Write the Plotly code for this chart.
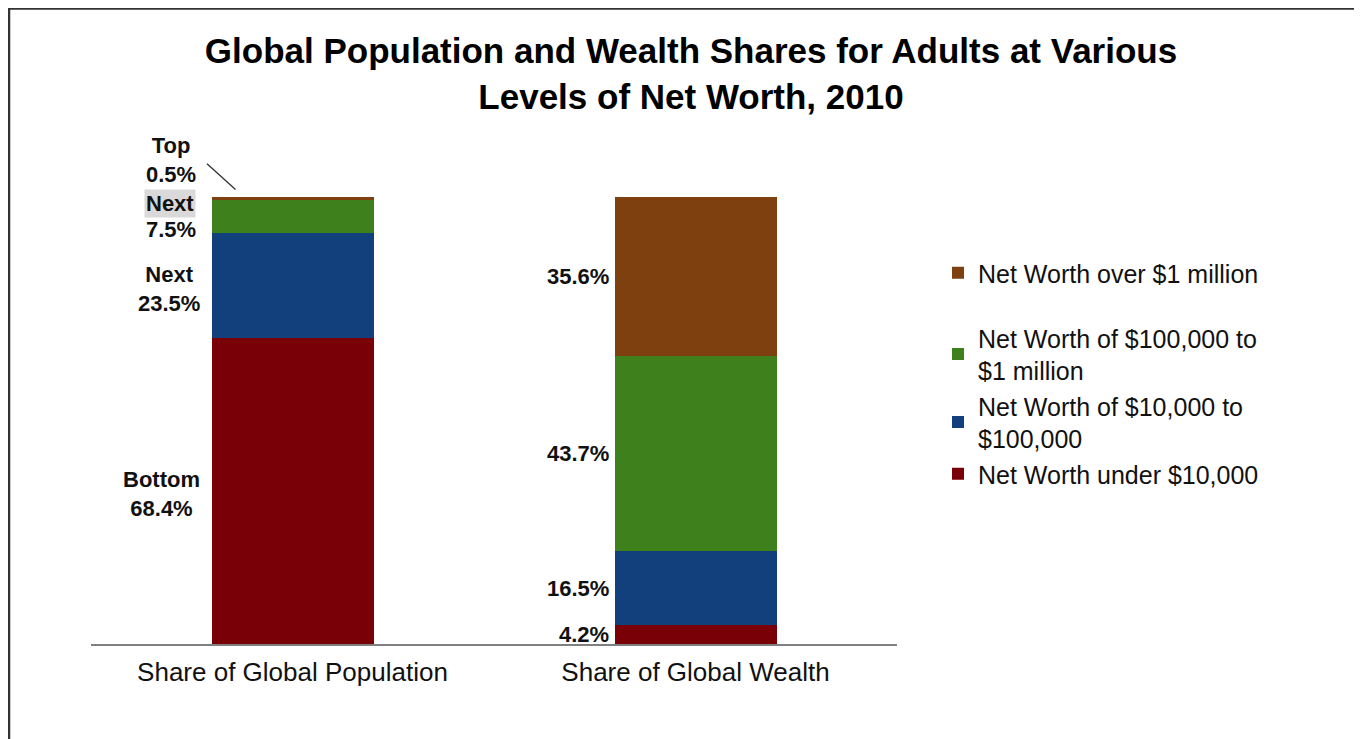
import plotly.graph_objects as go

categories = ["Share of Global Population", "Share of Global Wealth"]
series_names = [
    "Net Worth under $10,000",
    "Net Worth of $10,000 to<br>$100,000",
    "Net Worth of $100,000 to<br>$1 million",
    "Net Worth over $1 million",
]
population_share = [68.4, 23.5, 7.5, 0.5]
wealth_share = [4.2, 16.5, 43.7, 35.6]
population_groups = ["Bottom", "Next", "Next", "Top"]
colors = ["#7A0008", "#12407C", "#3E801C", "#7E400F"]
legend_ids = ["legend2", "legend2", "legend2", "legend"]

FONT = "Liberation Sans, Arial, sans-serif"
BAR_W = 0.402
W, H = 1354, 731          # page has 8px body margin
L, R_EDGE, T, B_EDGE = 83, 889, 189, 636
PW, PH = R_EDGE - L, B_EDGE - T

fig = go.Figure()
for i, name in enumerate(series_names):
    fig.add_trace(go.Bar(
        x=categories,
        y=[population_share[i], wealth_share[i]],
        name=name,
        marker=dict(color=colors[i], line=dict(width=0)),
        width=BAR_W,
        legend=legend_ids[i],
        hoverinfo="skip",
    ))

annotations = []
cum = 0
for i, v in enumerate(population_share):
    mid = cum + v / 2
    cum += v
    pct = f"{v}%"
    if i == 3:
        annotations.append(dict(
            x=0 - BAR_W / 2, y=mid, xref="x", yref="y",
            text=f"<b>{population_groups[i]}<br>{pct}</b>",
            showarrow=False, xanchor="right", yanchor="middle", align="center",
            xshift=-14, yshift=39, font=dict(size=22, color="#111", family=FONT)))
        annotations.append(dict(
            x=0 - BAR_W / 2, y=cum, xref="x", yref="y", text="",
            showarrow=True, arrowhead=0, arrowwidth=1.3, arrowcolor="#333",
            ax=-30, ay=-27, xshift=24, yshift=8))
    elif i == 2:
        annotations.append(dict(
            x=0 - BAR_W / 2, y=mid, xref="x", yref="y",
            text=f"<b>{population_groups[i]}</b>", bgcolor="#d9d9d9",
            showarrow=False, xanchor="right", yanchor="middle",
            xshift=-16, yshift=13, font=dict(size=22, color="#111", family=FONT)))
        annotations.append(dict(
            x=0 - BAR_W / 2, y=mid, xref="x", yref="y",
            text=f"<b>{pct}</b>",
            showarrow=False, xanchor="right", yanchor="middle",
            xshift=-14, yshift=-13, font=dict(size=22, color="#111", family=FONT)))
    else:
        annotations.append(dict(
            x=0 - BAR_W / 2, y=mid, xref="x", yref="y",
            text=f"<b>{population_groups[i]}<br>{pct}</b>",
            showarrow=False, xanchor="right", yanchor="middle", align="center",
            xshift=-10, yshift=-3, font=dict(size=22, color="#111", family=FONT)))

cum = 0
for i, v in enumerate(wealth_share):
    mid = cum + v / 2
    cum += v
    annotations.append(dict(
        x=1 - BAR_W / 2, y=mid, xref="x", yref="y",
        text=f"<b>{v}%</b>",
        showarrow=False, xanchor="right", yanchor="middle",
        xshift=-4, font=dict(size=22, color="#111", family=FONT)))

fig.update_layout(
    width=W, height=H,
    barmode="stack",
    showlegend=True,
    paper_bgcolor="white", plot_bgcolor="white",
    margin=dict(l=L, r=W - R_EDGE, t=T, b=H - B_EDGE),
    font=dict(family=FONT, color="#111"),
    title=dict(
        text="<b>Global Population and Wealth Shares for Adults at Various<br>Levels of Net Worth, 2010</b>",
        x=683 / W, xref="container", xanchor="center",
        y=1 - 55 / H, yref="container", yanchor="middle",
        font=dict(size=35, color="#000", family=FONT)),
    xaxis=dict(
        type="category", range=[-0.5, 1.5], showline=True, linecolor="#808080",
        linewidth=1.5, ticks="", showgrid=False, zeroline=False,
        tickfont=dict(size=26, color="#111", family=FONT), ticklabelstandoff=4),
    yaxis=dict(range=[0, 100], visible=False, showgrid=False, zeroline=False),
    legend=dict(
        x=(930 - L) / PW, xanchor="left", y=(B_EDGE - 265) / PH, yanchor="middle",
        font=dict(size=25, color="#111", family=FONT), bgcolor="rgba(0,0,0,0)"),
    legend2=dict(
        x=(930 - L) / PW, xanchor="left", y=(B_EDGE - 307) / PH, yanchor="top",
        traceorder="reversed", tracegroupgap=0,
        font=dict(size=25, color="#111", family=FONT), bgcolor="rgba(0,0,0,0)"),
    annotations=annotations,
    shapes=[dict(
        type="rect", xref="paper", yref="paper",
        x0=(1 - L) / PW, x1=(1420 - L) / PW,
        y0=(B_EDGE - 800) / PH, y1=(B_EDGE - 0.5) / PH,
        line=dict(color="#333", width=2.5), fillcolor="rgba(0,0,0,0)", layer="below")],
)

fig.write_html("out.html")
